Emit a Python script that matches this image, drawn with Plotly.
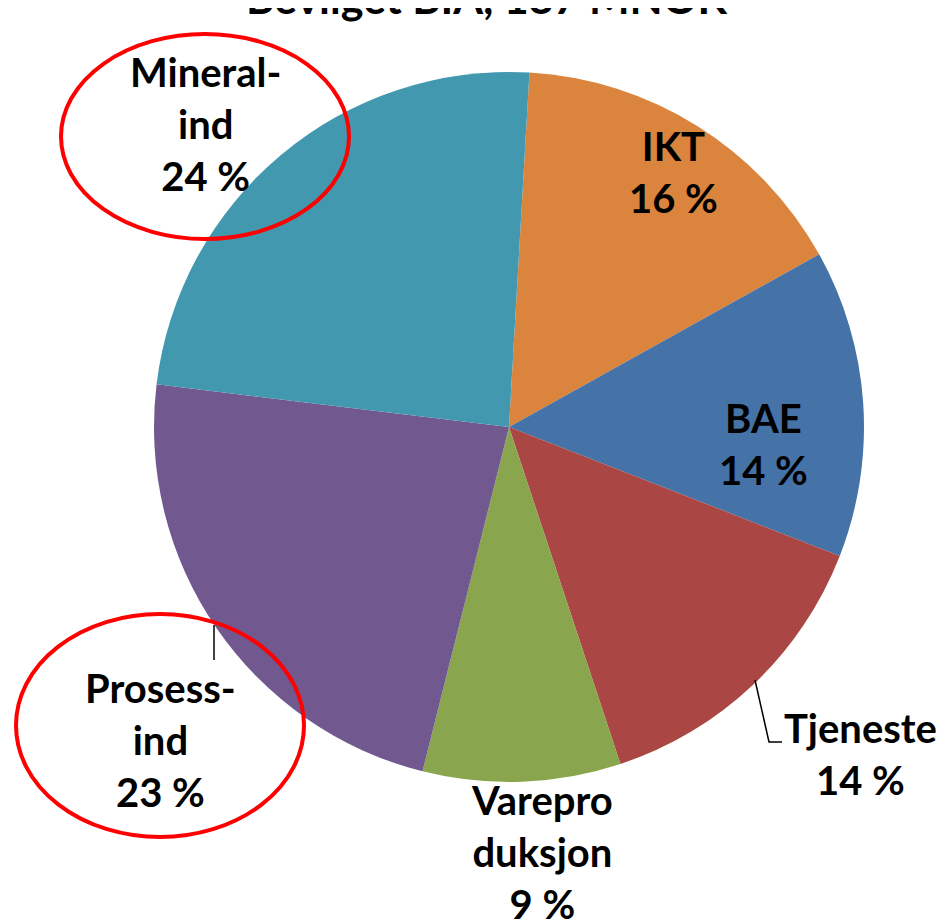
import plotly.graph_objects as go

# Data
categories = ["IKT", "BAE", "Tjeneste", "Vareproduksjon", "Prosessind", "Mineralind"]
values = [16, 14, 14, 9, 23, 24]
label_names = ["IKT", "BAE", "Tjeneste", "Varepro<br>duksjon", "Prosess-<br>ind", "Mineral-<br>ind"]
colors = ["#DB843D", "#4572A7", "#AA4643", "#89A54E", "#71588F", "#4198AF"]
title_text = "Bevilget BIA, 187 MNOK"

W, H = 951, 919
OFF = 8  # page body margin

def px(x):
    return (x - OFF) / W

def py(y):
    return 1 - (y - OFF) / H

cx, cy, r = 509, 427, 355

fig = go.Figure()
fig.add_trace(go.Pie(
    labels=categories,
    values=values,
    sort=False,
    direction="clockwise",
    rotation=3.3,
    marker=dict(colors=colors, line=dict(width=0)),
    textinfo="none",
    hoverinfo="label+percent",
    showlegend=False,
    domain=dict(x=[px(cx - r), px(cx + r)], y=[py(cy + r), py(cy - r)]),
))

# label positions (pixel centers of text blocks)
label_pos = [(673, 172), (763, 444), (860, 754), (542, 852), (160, 740), (205, 124)]
font = dict(family="Lato, 'Open Sans', sans-serif", size=40, color="black")
for name, v, (lx, ly) in zip(label_names, values, label_pos):
    fig.add_annotation(
        x=px(lx), y=py(ly), xref="paper", yref="paper",
        text=f"<b>{name}<br>{v} %</b>", showarrow=False,
        font=font, align="center", xanchor="center", yanchor="middle",
    )

# title (cut off at top)
fig.add_annotation(
    x=px(486), y=py(-3), xref="paper", yref="paper",
    text=f"<b>{title_text}</b>", showarrow=False,
    font=dict(family="Lato, 'Open Sans', sans-serif", size=43, color="black"),
    xanchor="center", yanchor="middle",
)

# red ellipses
fig.add_shape(type="circle", xref="paper", yref="paper",
              x0=px(61), x1=px(349), y0=py(239), y1=py(34),
              line=dict(color="#FF0000", width=4))
fig.add_shape(type="circle", xref="paper", yref="paper",
              x0=px(16), x1=px(304), y0=py(837), y1=py(614),
              line=dict(color="#FF0000", width=4))

# leader lines
fig.add_shape(type="line", xref="paper", yref="paper",
              x0=px(214), x1=px(214), y0=py(625), y1=py(660),
              line=dict(color="black", width=1.5))
fig.add_shape(type="path", xref="paper", yref="paper",
              path=f"M {px(755)} {py(680)} L {px(769)} {py(742)} L {px(782)} {py(742)}",
              line=dict(color="black", width=1.5))

fig.update_layout(
    width=W, height=H,
    margin=dict(l=0, r=0, t=0, b=0),
    paper_bgcolor="white", plot_bgcolor="white",
)

fig.write_html("out.html")
